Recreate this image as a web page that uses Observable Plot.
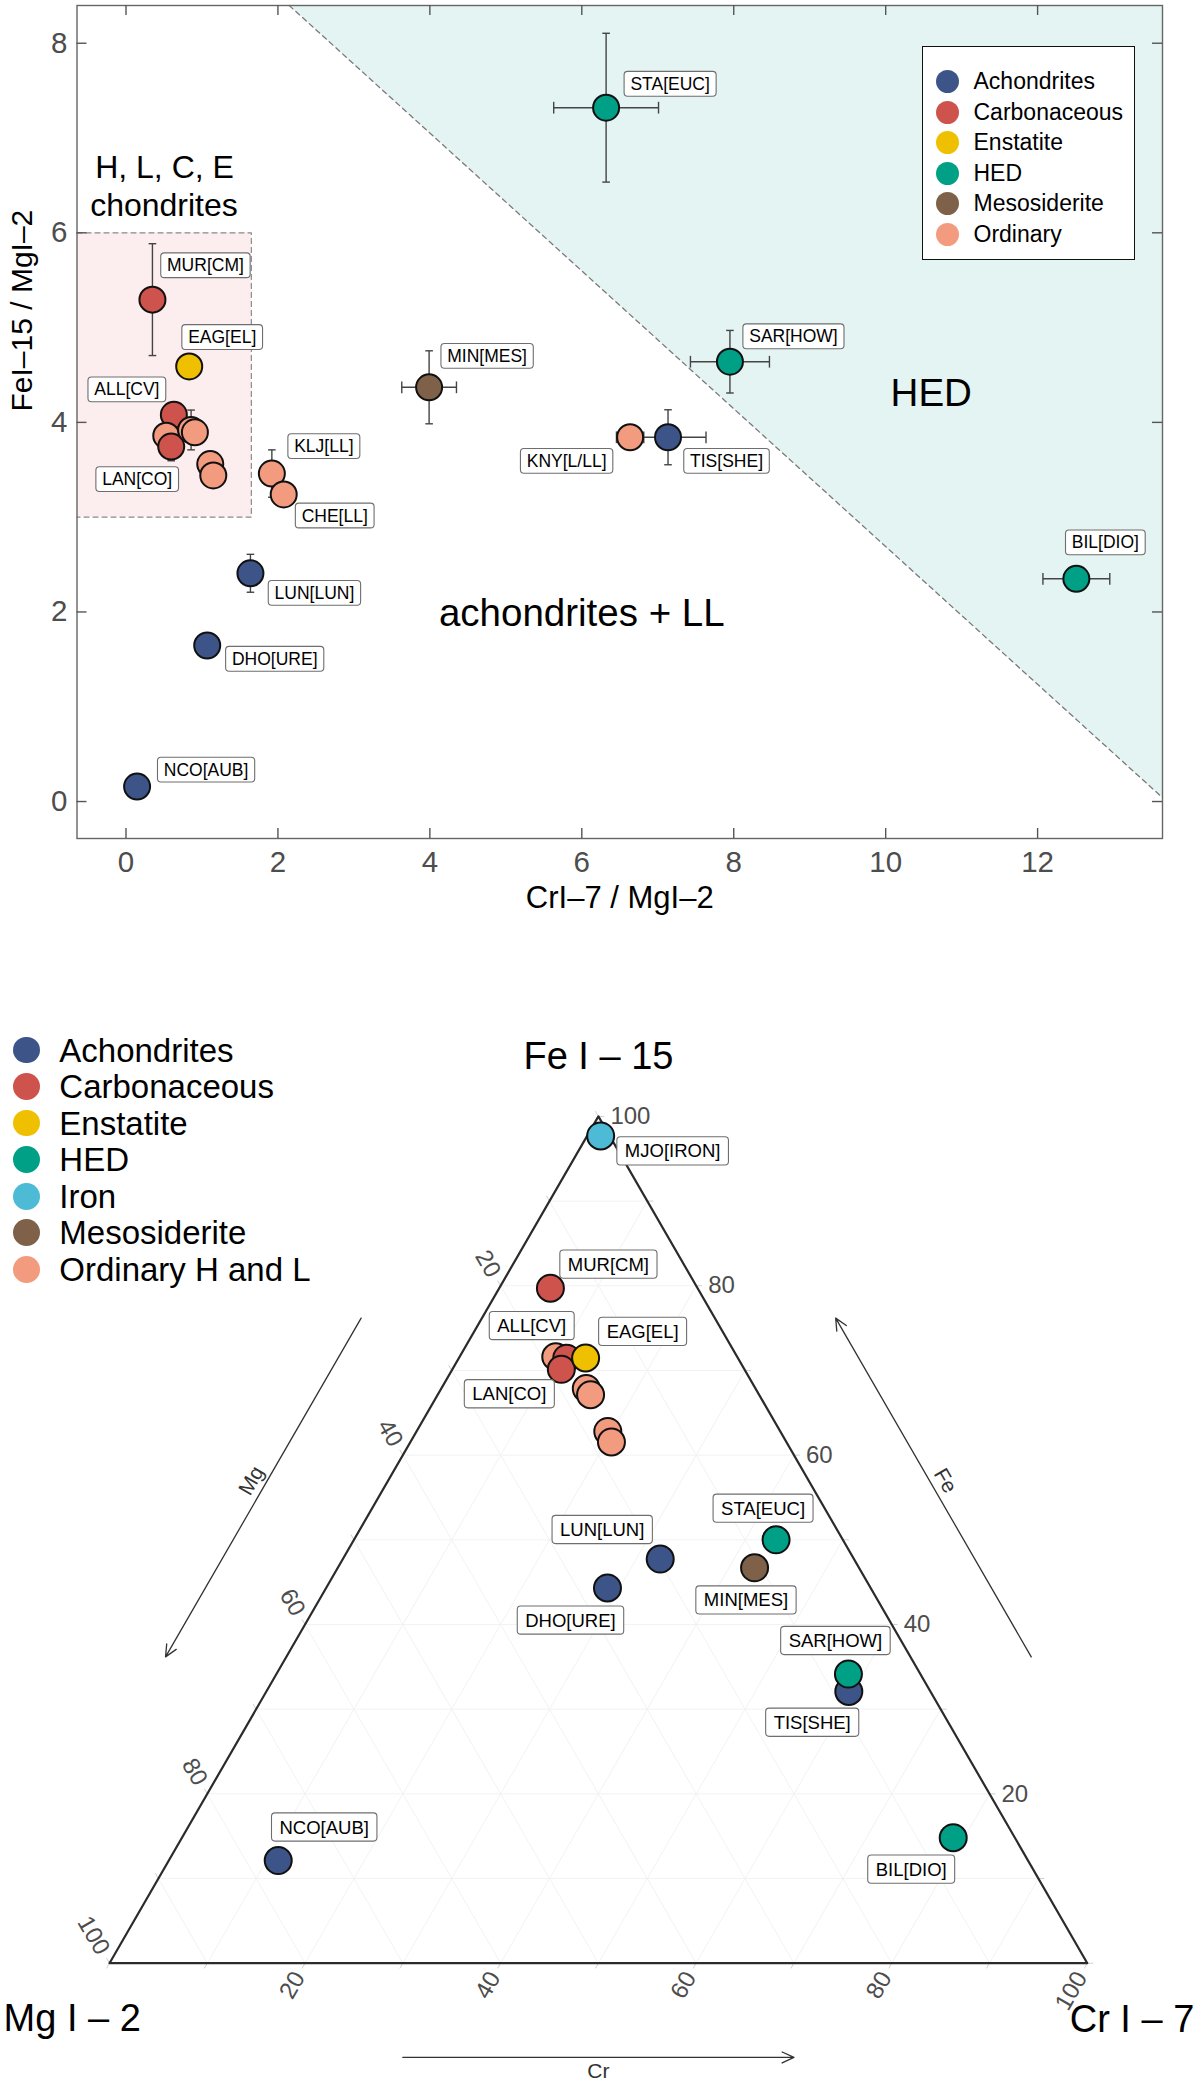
<!DOCTYPE html>
<html>
<head>
<meta charset="utf-8">
<script src="https://cdn.jsdelivr.net/npm/d3@7"></script>
<script src="https://cdn.jsdelivr.net/npm/@observablehq/plot@0.6"></script>
<style>
html,body{margin:0;padding:0;background:#fff;}
#wrap{position:relative;width:1200px;height:2086px;overflow:hidden;font-family:"Liberation Sans",Arial,Helvetica,sans-serif;}
#wrap svg{display:block;}
.leg-item{position:absolute;white-space:nowrap;color:#000;}
.leg-dot{position:absolute;border-radius:50%;}
</style>
</head>
<body>
<div id="wrap"></div>
<script>
const FONT = '"Liberation Sans", Arial, Helvetica, sans-serif';

// ---------------- data ----------------
const groupNames  = ["Achondrites","Carbonaceous","Enstatite","HED","Iron","Mesosiderite","Ordinary"];
const groupColors = ["#3C5488","#CD534C","#EFC000","#00A087","#4DBBD5","#7E6148","#F39B7F"];
const ternaryLegendNames = ["Achondrites","Carbonaceous","Enstatite","HED","Iron","Mesosiderite","Ordinary H and L"];

const sampleIds = ["NCO[AUB]","DHO[URE]","LUN[LUN]","MUR[CM]","ALL[CV]","OC-1","LAN[CO]","EAG[EL]","OC-2","OC-3","OC-4","OC-5","KLJ[LL]","CHE[LL]","MIN[MES]","KNY[L/LL]","TIS[SHE]","STA[EUC]","SAR[HOW]","BIL[DIO]","MJO[IRON]"];
const sampleGroups = ["Achondrites","Achondrites","Achondrites","Carbonaceous","Carbonaceous","Ordinary","Carbonaceous","Enstatite","Ordinary","Ordinary","Ordinary","Ordinary","Ordinary","Ordinary","Mesosiderite","Ordinary","Achondrites","HED","HED","HED","Iron"];
const labelled = [true,true,true,true,true,false,true,true,false,false,false,false,true,true,true,true,true,true,true,true,true];
// CrI-7 / MgI-2 and FeI-15 / MgI-2 line ratios
const crMg    = [0.146,1.069,1.638,0.348,0.63,0.53,0.595,0.832,0.857,0.907,1.109,1.149,1.92,2.076,3.99,6.636,7.135,6.32,7.95,12.51,1.5];
const feMg    = [0.158,1.646,2.408,5.295,4.08,3.86,3.745,4.59,3.92,3.895,3.56,3.44,3.46,3.24,4.37,3.843,3.843,7.32,4.64,2.35,106];
const crMgErr = [0,0,0,0,0,0,0,0,0,0,0,0,0,0,0.36,0.18,0.5,0.69,0.52,0.44,0];
const feMgErr = [0,0,0.2,0.59,0,0,0.15,0,0.21,0,0,0,0.25,0,0.385,0,0.29,0.785,0.33,0,0];
// LL chondrites are not part of the ternary diagram
const llSamples = ["KLJ[LL]","CHE[LL]","KNY[L/LL]"];

const xTicks = [0,2,4,6,8,10,12];
const yTicks = [0,2,4,6,8];
const ternTicks = [20,40,60,80,100];
const ternGrid = [10,20,30,40,50,60,70,80,90];

// region boundaries of the ratio diagram
const hedLine = {intercept: 9.96, slope: -0.727};
const chondriteBox = {x2: 1.65, y1: 3, y2: 6};

// label placement (pixel offsets from the point, repel-style layout)
const topLabelOffsets = {
  "MUR[CM]":[53,-34],"EAG[EL]":[33,-29],"ALL[CV]":[-47,-25],"LAN[CO]":[-34,33],
  "KLJ[LL]":[52,-27],"CHE[LL]":[51,21.5],"MIN[MES]":[58,-31],"KNY[L/LL]":[-63.5,24],
  "STA[EUC]":[64,-23.5],"SAR[HOW]":[63.5,-25],"TIS[SHE]":[58.5,24],"BIL[DIO]":[29,-36],
  "LUN[LUN]":[64,20],"DHO[URE]":[67.5,13.7],"NCO[AUB]":[69,-16.5]
};
const ternLabelOffsets = {
  "MJO[IRON]":[72,15.5],"MUR[CM]":[58,-23.5],"ALL[CV]":[-35,-32],"LAN[CO]":[-52,25],
  "EAG[EL]":[57,-26],"STA[EUC]":[-13,-31],"LUN[LUN]":[-58,-29],"DHO[URE]":[-37,32.6],
  "MIN[MES]":[-8.6,32.7],"SAR[HOW]":[-13,-33],"TIS[SHE]":[-36.6,31.3],"BIL[DIO]":[-42,32],
  "NCO[AUB]":[46,-33]
};

// ---------------- build rows ----------------
const rows = sampleIds.map((id, i) => ({
  id, group: sampleGroups[i], label: labelled[i] ? id : "",
  cr: crMg[i], fe: feMg[i], crErr: crMgErr[i], feErr: feMgErr[i]
}));

const wrap = document.getElementById("wrap");
const LABEL_FILL = "#010101";

function addLabelBoxes(svg, padX, padY) {
  const ns = "http://www.w3.org/2000/svg";
  svg.querySelectorAll(`g[fill="${LABEL_FILL}"] text`).forEach(t => {
    const b = t.getBBox();
    const r = document.createElementNS(ns, "rect");
    r.setAttribute("x", b.x - padX);
    r.setAttribute("y", b.y - padY);
    r.setAttribute("width", b.width + 2 * padX);
    r.setAttribute("height", b.height + 2 * padY);
    r.setAttribute("rx", 3.5);
    r.setAttribute("fill", "#ffffff");
    r.setAttribute("stroke", "#6e6e6e");
    r.setAttribute("stroke-width", 1.1);
    const tr = t.getAttribute("transform");
    if (tr) r.setAttribute("transform", tr);
    t.parentNode.insertBefore(r, t);
  });
}

// ---------------- top: ratio diagram ----------------
const X_DOMAIN = [-0.645, 13.644];
const Y_DOMAIN = [-0.39, 8.398];
const TOP_H = 940, MT = 5, MB = 102, ML = 76.5, MR = 38;
const panelH = TOP_H - MT - MB, panelW = 1200 - ML - MR;

const topData = rows.filter(d => d.group !== "Iron");
const lineY = x => hedLine.intercept + hedLine.slope * x;
const xTop = (Y_DOMAIN[1] - hedLine.intercept) / hedLine.slope;
const hedArea = [xTop, X_DOMAIN[1]].map(x => ({x, y1: lineY(x), y2: Y_DOMAIN[1]}));
const boxOutline = [
  {x: X_DOMAIN[0], y: chondriteBox.y2}, {x: chondriteBox.x2, y: chondriteBox.y2},
  {x: chondriteBox.x2, y: chondriteBox.y1}, {x: X_DOMAIN[0], y: chondriteBox.y1}
];
const vErr = topData.filter(d => d.feErr > 0);
const hErr = topData.filter(d => d.crErr > 0);
const vCap = 0.05, hCap = 0.062;
const errStyle = {stroke: "#444", strokeWidth: 1.4};

const topLabelMarks = topData.filter(d => d.label).map(d => {
  const [dx, dy] = topLabelOffsets[d.label];
  return Plot.text([d], {x: "cr", y: "fe", text: "label", dx, dy, fontSize: 17.5,
    fill: LABEL_FILL, fontFamily: FONT, textAnchor: "middle", lineAnchor: "middle"});
});

const annotations = [
  {text: "H, L, C, E", x: 0.507, y: 6.69, size: 32},
  {text: "chondrites", x: 0.50, y: 6.29, size: 32},
  {text: "HED", x: 10.6, y: 4.30, size: 38.5},
  {text: "achondrites + LL", x: 6.0, y: 1.98, size: 38.5}
];

const topPlot = Plot.plot({
  width: 1200, height: TOP_H,
  marginLeft: ML, marginRight: MR, marginTop: MT, marginBottom: MB,
  style: {fontFamily: FONT, fontSize: "29.5px", color: "#4d4d4d", background: "white", overflow: "visible"},
  x: {domain: X_DOMAIN, ticks: xTicks, tickSize: 0, tickPadding: 13, label: null},
  y: {domain: Y_DOMAIN, ticks: yTicks, tickSize: 0, tickPadding: 9.5, label: null},
  color: {domain: groupNames, range: groupColors},
  marks: [
    Plot.areaY(hedArea, {x: "x", y1: "y1", y2: "y2", fill: "#e3f4f2"}),
    Plot.rect([chondriteBox], {x1: X_DOMAIN[0], x2: "x2", y1: "y1", y2: "y2", fill: "#fcedee"}),
    Plot.line(boxOutline, {x: "x", y: "y", stroke: "#8a8a8a", strokeWidth: 1.2, strokeDasharray: "5,4"}),
    Plot.line(hedArea, {x: "x", y: "y1", stroke: "#7a7a7a", strokeWidth: 1.3, strokeDasharray: "5,4"}),
    Plot.frame({stroke: "#666", strokeWidth: 1.4}),
    Plot.ruleX(xTicks, {x: d => d, insetTop: panelH - 10, stroke: "#555", strokeWidth: 1.4}),
    Plot.ruleX(xTicks, {x: d => d, insetBottom: panelH - 10, stroke: "#555", strokeWidth: 1.4}),
    Plot.ruleY(yTicks, {y: d => d, insetRight: panelW - 10, stroke: "#555", strokeWidth: 1.4}),
    Plot.ruleY(yTicks, {y: d => d, insetLeft: panelW - 10, stroke: "#555", strokeWidth: 1.4}),
    // error bars
    Plot.link(vErr, {x1: "cr", x2: "cr", y1: d => d.fe - d.feErr, y2: d => d.fe + d.feErr, ...errStyle}),
    Plot.link(vErr, {x1: d => d.cr - vCap, x2: d => d.cr + vCap, y1: d => d.fe - d.feErr, y2: d => d.fe - d.feErr, ...errStyle}),
    Plot.link(vErr, {x1: d => d.cr - vCap, x2: d => d.cr + vCap, y1: d => d.fe + d.feErr, y2: d => d.fe + d.feErr, ...errStyle}),
    Plot.link(hErr, {y1: "fe", y2: "fe", x1: d => d.cr - d.crErr, x2: d => d.cr + d.crErr, ...errStyle}),
    Plot.link(hErr, {y1: d => d.fe - hCap, y2: d => d.fe + hCap, x1: d => d.cr - d.crErr, x2: d => d.cr - d.crErr, ...errStyle}),
    Plot.link(hErr, {y1: d => d.fe - hCap, y2: d => d.fe + hCap, x1: d => d.cr + d.crErr, x2: d => d.cr + d.crErr, ...errStyle}),
    Plot.dot(topData, {x: "cr", y: "fe", r: 13, fill: "group", stroke: "#111", strokeWidth: 2}),
    ...topLabelMarks,
    ...annotations.map(a => Plot.text([a], {x: "x", y: "y", text: "text", fontSize: a.size, fill: "#000",
      fontFamily: FONT, textAnchor: "middle", lineAnchor: "middle"})),
    Plot.text(["CrI\u20137 / MgI\u20132"], {frameAnchor: "bottom", dy: 60, fontSize: 31, fill: "#000",
      fontFamily: FONT, lineAnchor: "middle"}),
    Plot.text(["FeI\u201315 / MgI\u20132"], {frameAnchor: "left", dx: -54.5, dy: -10.5, rotate: -90, fontSize: 30,
      fill: "#000", fontFamily: FONT, lineAnchor: "middle"})
  ]
});
wrap.appendChild(topPlot);
addLabelBoxes(topPlot, 6.3, 2.4);

// ---------------- bottom: ternary diagram ----------------
const S3 = Math.sqrt(3) / 2;
const TERN_H = 2086 - TOP_H;
const tern = (fe, cr, mg) => {
  const s = fe + cr + mg;
  return {x: (cr + fe / 2) / s, y: (fe / s) * S3};
};
const groupOrder = ["Ordinary","Achondrites","Carbonaceous","Enstatite","HED","Iron","Mesosiderite"];
const ternData = rows
  .filter(d => !llSamples.includes(d.id))
  .map(d => ({...d, ...tern(d.fe, d.cr, 1)}))
  .sort((a, b) => groupOrder.indexOf(a.group) - groupOrder.indexOf(b.group));

const verts = [tern(0,0,1), tern(0,1,0), tern(1,0,0), tern(0,0,1)];
const gridLines = [];
for (const v of ternGrid) {
  const f = v / 100;
  const a1 = tern(f, 0, 1 - f), a2 = tern(f, 1 - f, 0);           // Fe constant
  const b1 = tern(0, f, 1 - f), b2 = tern(1 - f, f, 0);           // Cr constant
  const c1 = tern(0, 1 - f, f), c2 = tern(1 - f, 0, f);           // Mg constant
  gridLines.push({x1: a1.x, y1: a1.y, x2: a2.x, y2: a2.y});
  gridLines.push({x1: b1.x, y1: b1.y, x2: b2.x, y2: b2.y});
  gridLines.push({x1: c1.x, y1: c1.y, x2: c2.x, y2: c2.y});
}
const PX = 977.8; // pixels per ternary unit (set by margins below)
const tl = 6 / PX;
const edgeTicks = [];
for (const v of [0, ...ternGrid, 100]) {
  const f = v / 100;
  const pc = tern(0, f, 1 - f);  // bottom edge (Cr)
  edgeTicks.push({x1: pc.x, y1: pc.y, x2: pc.x - 0.5 * tl, y2: pc.y - S3 * tl});
  const pm = tern(1 - f, 0, f);  // left edge (Mg)
  edgeTicks.push({x1: pm.x, y1: pm.y, x2: pm.x - 0.5 * tl, y2: pm.y + S3 * tl});
  const pf = tern(f, 1 - f, 0);  // right edge (Fe)
  edgeTicks.push({x1: pf.x, y1: pf.y, x2: pf.x + tl, y2: pf.y});
}
const feTickPts = ternTicks.map(v => ({v, ...tern(v / 100, 1 - v / 100, 0)}));
const mgTickPts = ternTicks.map(v => ({v, ...tern(1 - v / 100, 0, v / 100)}));
const crTickPts = ternTicks.map(v => ({v, ...tern(0, v / 100, 1 - v / 100)}));

// axis arrows (from 30% to 70% along each edge, set off outside the triangle)
const arrowSide = 0.107, arrowBottom = 0.0964, labSide = 0.121, labBottom = 0.111;
const nL = [-S3, 0.5], nR = [S3, 0.5];
const alongL = t => ({x: 0.5 * t, y: S3 * t});
const alongR = t => ({x: 1 - 0.5 * t, y: S3 * t});
const arrows = [
  {x1: alongL(0.7).x + nL[0] * arrowSide, y1: alongL(0.7).y + nL[1] * arrowSide,
   x2: alongL(0.3).x + nL[0] * arrowSide, y2: alongL(0.3).y + nL[1] * arrowSide},
  {x1: alongR(0.3).x + nR[0] * arrowSide, y1: alongR(0.3).y + nR[1] * arrowSide,
   x2: alongR(0.7).x + nR[0] * arrowSide, y2: alongR(0.7).y + nR[1] * arrowSide},
  {x1: 0.3, y1: -arrowBottom, x2: 0.7, y2: -arrowBottom}
];
const arrowLabels = [
  {text: "Mg", x: alongL(0.5).x + nL[0] * labSide, y: alongL(0.5).y + nL[1] * labSide, rotate: -60},
  {text: "Fe", x: alongR(0.5).x + nR[0] * labSide, y: alongR(0.5).y + nR[1] * labSide, rotate: 60},
  {text: "Cr", x: 0.5, y: -labBottom, rotate: 0}
];

const ternLabelMarks = ternData.filter(d => d.label).map(d => {
  const [dx, dy] = ternLabelOffsets[d.label];
  return Plot.text([d], {x: "x", y: "y", text: "label", dx, dy, fontSize: 18.5,
    fill: LABEL_FILL, fontFamily: FONT, textAnchor: "middle", lineAnchor: "middle"});
});
const tickStyle = {fontSize: 24, fill: "#4d4d4d", fontFamily: FONT, lineAnchor: "middle"};

const ternPlot = Plot.plot({
  width: 1200, height: TERN_H,
  marginLeft: 109, marginRight: 1200 - 109 - PX, marginTop: 175.9, marginBottom: TERN_H - 175.9 - PX * S3,
  style: {fontFamily: FONT, background: "white", overflow: "visible"},
  x: {domain: [0, 1], axis: null},
  y: {domain: [0, S3], axis: null},
  color: {domain: groupNames, range: groupColors},
  marks: [
    Plot.link(gridLines, {x1: "x1", y1: "y1", x2: "x2", y2: "y2", stroke: "#f2f2f2", strokeWidth: 1}),
    Plot.link(edgeTicks, {x1: "x1", y1: "y1", x2: "x2", y2: "y2", stroke: "#d0d0d0", strokeWidth: 1}),
    Plot.line(verts, {x: "x", y: "y", stroke: "#2b2b2b", strokeWidth: 2.2}),
    Plot.text(feTickPts, {x: "x", y: "y", text: d => String(d.v), textAnchor: "start", dx: 12, ...tickStyle}),
    Plot.text(mgTickPts, {x: "x", y: "y", text: d => String(d.v), textAnchor: "end", rotate: 60, dx: -6, dy: -10.4, ...tickStyle}),
    Plot.text(crTickPts, {x: "x", y: "y", text: d => String(d.v), textAnchor: "end", rotate: -60, dx: -6, dy: 10.4, ...tickStyle}),
    Plot.arrow(arrows, {x1: "x1", y1: "y1", x2: "x2", y2: "y2", stroke: "#333", strokeWidth: 1.3, headLength: 15, headAngle: 50}),
    ...arrowLabels.map(a => Plot.text([a], {x: "x", y: "y", text: "text", rotate: a.rotate, fontSize: 21,
      fill: "#333", fontFamily: FONT, textAnchor: "middle", lineAnchor: "middle"})),
    Plot.text([tern(1,0,0)], {x: "x", y: "y", text: () => "Fe I \u2013 15", dy: -60, fontSize: 38, fill: "#000", fontFamily: FONT, lineAnchor: "middle"}),
    Plot.text([tern(0,0,1)], {x: "x", y: "y", text: () => "Mg I \u2013 2", dx: -37.3, dy: 55.6, fontSize: 38, fill: "#000", fontFamily: FONT, lineAnchor: "middle"}),
    Plot.text([tern(0,1,0)], {x: "x", y: "y", text: () => "Cr I \u2013 7", dx: 44.7, dy: 56.3, fontSize: 38, fill: "#000", fontFamily: FONT, lineAnchor: "middle"}),
    Plot.dot(ternData, {x: "x", y: "y", r: 13.5, fill: "group", stroke: "#111", strokeWidth: 2}),
    ...ternLabelMarks
  ]
});
wrap.appendChild(ternPlot);
addLabelBoxes(ternPlot, 8, 3.6);

// ---------------- legends ----------------
function legend({left, top, width, height, border, names, labels, dotX, dotR, textX, rowY0, rowDY, fontSize}) {
  const box = document.createElement("div");
  box.style.cssText = `position:absolute;left:${left}px;top:${top}px;width:${width}px;height:${height}px;` +
    (border ? `border:${border};background:#fff;box-sizing:border-box;` : "");
  names.forEach((g, i) => {
    const cy = rowY0 + i * rowDY;
    const dot = document.createElement("div");
    dot.className = "leg-dot";
    dot.style.cssText += `left:${dotX - dotR}px;top:${cy - dotR}px;width:${2 * dotR}px;height:${2 * dotR}px;background:${groupColors[groupNames.indexOf(g)]};`;
    box.appendChild(dot);
    const t = document.createElement("div");
    t.className = "leg-item";
    t.style.cssText += `left:${textX}px;top:${cy - fontSize / 2}px;font-size:${fontSize}px;line-height:${fontSize}px;`;
    t.textContent = labels[i];
    box.appendChild(t);
  });
  wrap.appendChild(box);
}
const topLegendGroups = groupNames.filter(g => g !== "Iron");
legend({left: 922, top: 46, width: 213, height: 214, border: "1.6px solid #111",
  names: topLegendGroups, labels: topLegendGroups,
  dotX: 24.5, dotR: 11.5, textX: 50.5, rowY0: 34.5, rowDY: 30.5, fontSize: 23});
legend({left: 0, top: 0, width: 400, height: 1300, border: null,
  names: groupNames, labels: ternaryLegendNames,
  dotX: 26.8, dotR: 13.4, textX: 59.3, rowY0: 1050, rowDY: 36.55, fontSize: 33});
</script>
</body>
</html>
